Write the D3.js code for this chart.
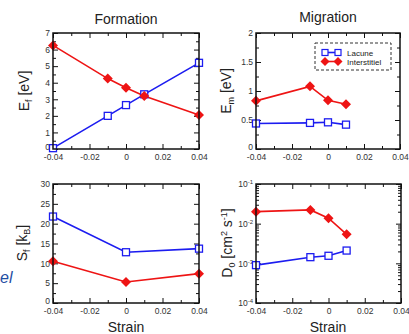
<!DOCTYPE html>
<html>
<head>
<meta charset="utf-8">
<script src="https://cdn.jsdelivr.net/npm/d3@7"></script>
<style>
  body { margin: 0; background: #fff; }
  svg { display: block; font-family: "Liberation Sans", Arial, sans-serif; }
  .tick text { fill: #333; font-size: 8.5px; }
</style>
</head>
<body>
<div id="chart"></div>
<script>
// values
const strainEf = [-0.04, -0.01, 0, 0.01, 0.04]
const efLacune = [0.05, 2.0, 2.65, 3.3, 5.2]
const efInter = [6.25, 4.25, 3.7, 3.2, 2.05]

const strainEm = [-0.04, -0.01, 0, 0.01]
const emLacune = [0.44, 0.45, 0.46, 0.42]
const emInter = [0.83, 1.08, 0.84, 0.77]

const strainSf = [-0.04, 0, 0.04]
const sfLacune = [21.8, 12.8, 13.7]
const sfInter = [10.5, 5.3, 7.4]

const strainD0 = [-0.04, -0.01, 0, 0.01]
const d0Lacune = [0.0009, 0.00143, 0.00155, 0.0021]
const d0Inter = [0.0201, 0.0222, 0.0137, 0.0054]

const xTicks = [-0.04, -0.02, 0, 0.02, 0.04]
const xTickLabels = ["-0.04", "-0.02", "0", "0.02", "0.04"]
const seriesNames = ["Lacune", "Interstitiel"]

const blue = "#1c1cf0"
const red = "#ee1414"

const svg = d3.select("#chart").append("svg")
    .attr("width", 409)
    .attr("height", 334)

// panel boxes
const panels = [
    { x0: 53, x1: 199, y0: 33, y1: 149, xs: strainEf, a: efLacune, b: efInter,
      yDomain: [0, 7], yMajor: d3.range(0, 7.01, 1), yMinor: d3.range(0.5, 7, 1), yFmt: d => d },
    { x0: 256, x1: 400, y0: 33, y1: 149, xs: strainEm, a: emLacune, b: emInter,
      yDomain: [0, 2], yMajor: d3.range(0, 2.01, 0.5), yMinor: d3.range(0.25, 2, 0.5), yFmt: d => d },
    { x0: 53, x1: 199, y0: 184, y1: 303, xs: strainSf, a: sfLacune, b: sfInter,
      yDomain: [0, 30], yMajor: d3.range(0, 30.1, 5), yMinor: d3.range(2.5, 30, 5), yFmt: d => d },
    { x0: 256, x1: 401, y0: 184, y1: 303, xs: strainD0, a: d0Lacune, b: d0Inter, log: true,
      yDomain: [1e-4, 1e-1], yMajor: [1e-4, 1e-3, 1e-2, 1e-1],
      yMinor: [1e-4, 1e-3, 1e-2].flatMap(p => d3.range(2, 10).map(k => k * p)) }
]

panels.forEach(p => drawPanel(p))

function drawPanel(p) {
    const w = p.x1 - p.x0
    const h = p.y1 - p.y0
    const g = svg.append("g").attr("transform", `translate(${p.x0},${p.y0})`)

    const x = d3.scaleLinear().domain([-0.04, 0.04]).range([0, w])
    const y = (p.log ? d3.scaleLog() : d3.scaleLinear()).domain(p.yDomain).range([h, 0])

    const xMinor = d3.range(-0.03, 0.04, 0.02)

    // major / minor ticks pointing inward on all four sides
    const bottom = g.append("g").attr("transform", `translate(0,${h})`)
        .call(d3.axisBottom(x).tickValues(xTicks).tickSize(-5).tickPadding(3)
            .tickFormat((d, i) => xTickLabels[i]))
    g.append("g").attr("transform", `translate(0,${h})`)
        .call(d3.axisBottom(x).tickValues(xMinor).tickSize(-3).tickFormat(""))
    g.append("g").call(d3.axisTop(x).tickValues(xTicks).tickSize(-5).tickFormat(""))
    g.append("g").call(d3.axisTop(x).tickValues(xMinor).tickSize(-3).tickFormat(""))

    const left = g.append("g")
        .call(d3.axisLeft(y).tickValues(p.yMajor).tickSize(-5).tickPadding(3)
            .tickFormat(p.log ? "" : p.yFmt))
    g.append("g").call(d3.axisLeft(y).tickValues(p.yMinor).tickSize(-3).tickFormat(""))
    g.append("g").attr("transform", `translate(${w},0)`)
        .call(d3.axisRight(y).tickValues(p.yMajor).tickSize(-5).tickFormat(""))
    g.append("g").attr("transform", `translate(${w},0)`)
        .call(d3.axisRight(y).tickValues(p.yMinor).tickSize(-3).tickFormat(""))

    g.selectAll(".domain").remove()
    g.selectAll(".tick line").attr("stroke", "#111").attr("stroke-width", 1)
    bottom.selectAll("text").attr("dy", "0.95em")

    // log labels 10^-n
    if (p.log) {
        const t = left.selectAll(".tick").append("text")
            .attr("x", -3).attr("dy", "0.35em")
            .attr("text-anchor", "end")
        t.append("tspan").text("10")
        t.append("tspan").attr("dy", "-0.5em").attr("font-size", "6px")
            .text(d => "-" + Math.round(-Math.log10(d)))
    }
    // lowest y label sits just above the corner
    left.selectAll(".tick").filter((d, i) => i == 0).select("text").attr("dy", "0.05em")

    const line = d3.line().x(d => x(d[0])).y(d => y(d[1]))

    const series = [
        { name: seriesNames[0], color: blue, pts: p.xs.map((s, i) => [s, p.a[i]]) },
        { name: seriesNames[1], color: red, pts: p.xs.map((s, i) => [s, p.b[i]]) }
    ]

    g.selectAll(".series")
        .data(series)
        .join("path")
        .attr("class", "series")
        .attr("d", d => line(d.pts))
        .attr("fill", "none")
        .attr("stroke", d => d.color)
        .attr("stroke-width", 1.6)

    // hollow squares for lacune
    g.selectAll(".sq")
        .data(series[0].pts)
        .join("rect")
        .attr("class", "sq")
        .attr("x", d => x(d[0]) - 3.5)
        .attr("y", d => y(d[1]) - 3.5)
        .attr("width", 7)
        .attr("height", 7)
        .attr("fill", "#fff")
        .attr("stroke", blue)
        .attr("stroke-width", 1.3)

    // filled diamonds for interstitiel
    g.selectAll(".dm")
        .data(series[1].pts)
        .join("path")
        .attr("class", "dm")
        .attr("d", d => diamond(x(d[0]), y(d[1]), 5))
        .attr("fill", red)

    // frame
    g.append("rect")
        .attr("width", w).attr("height", h)
        .attr("fill", "none")
        .attr("stroke", "#111")
        .attr("stroke-width", 1.5)
}

function diamond(cx, cy, r) {
    return `M${cx},${cy - r}L${cx + r},${cy}L${cx},${cy + r}L${cx - r},${cy}Z`
}

// titles
svg.append("text").attr("x", 126).attr("y", 24).attr("text-anchor", "middle")
    .attr("font-size", "14px").attr("fill", "#222").text("Formation")
svg.append("text").attr("x", 328).attr("y", 22).attr("text-anchor", "middle")
    .attr("font-size", "14px").attr("fill", "#222").text("Migration")
svg.append("text").attr("x", 126).attr("y", 332).attr("text-anchor", "middle")
    .attr("font-size", "14px").attr("fill", "#222").text("Strain")
svg.append("text").attr("x", 328).attr("y", 332).attr("text-anchor", "middle")
    .attr("font-size", "14px").attr("fill", "#222").text("Strain")

// y labels with sub/superscripts
function yLabel(cx, cy, parts) {
    const t = svg.append("text")
        .attr("transform", `translate(${cx},${cy}) rotate(-90)`)
        .attr("text-anchor", "middle")
        .attr("font-size", "14px")
        .attr("fill", "#222")
    parts.forEach(pt => {
        const s = t.append("tspan").text(pt.t)
        if (pt.sub) s.attr("font-size", "9px").attr("baseline-shift", "-30%")
        if (pt.sup) s.attr("font-size", "9px").attr("baseline-shift", "60%")
    })
}
yLabel(29, 91, [{ t: "E" }, { t: "f", sub: true }, { t: " [eV]" }])
yLabel(231, 91, [{ t: "E" }, { t: "m", sub: true }, { t: " [eV]" }])
yLabel(27, 243, [{ t: "S" }, { t: "f", sub: true }, { t: " [k" }, { t: "B", sub: true }, { t: "]" }])
yLabel(232, 243, [{ t: "D" }, { t: "0", sub: true }, { t: " [cm" }, { t: "2", sup: true },
    { t: " s" }, { t: "-1", sup: true }, { t: "]" }])

// legend in Migration panel
const lg = svg.append("g").attr("transform", "translate(315,43)")
lg.append("rect").attr("width", 76).attr("height", 27)
    .attr("fill", "#fff").attr("stroke", "#333").attr("stroke-width", 1)
    .attr("stroke-dasharray", "3,2")
const legendRows = [
    { name: seriesNames[0], color: blue, y: 9.5 },
    { name: seriesNames[1], color: red, y: 18.5 }
]
legendRows.forEach((r, i) => {
    lg.append("line").attr("x1", 10).attr("x2", 23).attr("y1", r.y).attr("y2", r.y)
        .attr("stroke", r.color).attr("stroke-width", 1.6)
    ;[10, 23].forEach(px => {
        if (i == 0) {
            lg.append("rect").attr("x", px - 3).attr("y", r.y - 3).attr("width", 6).attr("height", 6)
                .attr("fill", "#fff").attr("stroke", r.color).attr("stroke-width", 1.2)
        } else {
            lg.append("path").attr("d", diamond(px, r.y, 4.5)).attr("fill", r.color)
        }
    })
    lg.append("text").attr("x", 32).attr("y", r.y + 3).attr("font-size", "8px")
        .attr("fill", "#222").text(r.name)
})

// cut-off slide text at left edge
svg.append("text").attr("x", 0).attr("y", 283)
    .attr("font-size", "16px").attr("font-style", "italic")
    .attr("fill", "#1f4ea3").text("el")
</script>
</body>
</html>
